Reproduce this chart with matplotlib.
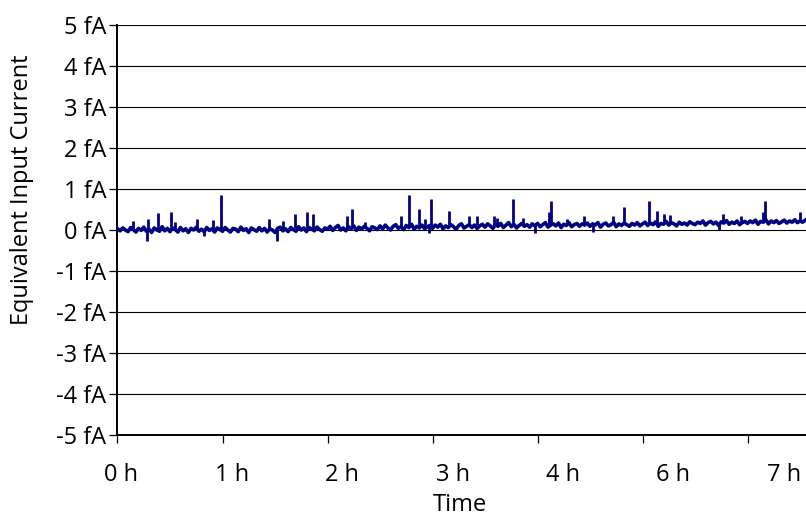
import numpy as np
import matplotlib
matplotlib.use("Agg")
import matplotlib.pyplot as plt
from matplotlib.ticker import FixedLocator, NullFormatter

SAMPLE_STEP = 0.025
trace_fA = [
    0.03, -0.02, 0.05, 0.00, -0.04, 0.06, 0.01, -0.05, 0.04, -0.01, 0.07, -0.03, 0.02, -0.06, 0.05, 0.00, -0.03, 0.08, -0.02, 0.04,
    -0.04, 0.05, 0.01, -0.05, 0.06, -0.02, 0.03, -0.06, 0.04, 0.00, 0.07, -0.03, 0.02, -0.04, 0.06, -0.01, 0.03, -0.05, 0.05, 0.01,
    -0.03, 0.06, 0.00, -0.05, 0.04, 0.02, -0.04, 0.07, -0.01, 0.03, -0.06, 0.05, 0.01, -0.03, 0.06, -0.02, 0.04, -0.05, 0.03, 0.00,
    -0.06, 0.04, 0.07, -0.02, 0.03, -0.04, 0.06, 0.01, -0.03, 0.08, 0.00, 0.05, -0.04, 0.06, 0.02, -0.02, 0.07, 0.01, -0.03, 0.05,
    0.02, 0.09, -0.01, 0.06, 0.11, 0.00, 0.05, -0.02, 0.08, 0.03, 0.10, -0.01, 0.07, 0.02, 0.09, 0.04, -0.02, 0.08, 0.05, 0.01,
    0.10, 0.03, 0.12, 0.05, 0.00, 0.09, 0.13, 0.04, 0.08, 0.01, 0.11, 0.06, 0.14, 0.02, 0.09, 0.05, 0.12, 0.03, 0.08, 0.11,
    0.04, 0.12, 0.07, 0.14, 0.03, 0.10, 0.06, 0.13, 0.08, 0.02, 0.11, 0.15, 0.05, 0.09, 0.13, 0.06, 0.12, 0.04, 0.10, 0.14,
    0.07, 0.15, 0.10, 0.04, 0.13, 0.09, 0.16, 0.06, 0.12, 0.18, 0.08, 0.14, 0.05, 0.11, 0.16, 0.09, 0.13, 0.07, 0.15, 0.10,
    0.16, 0.08, 0.13, 0.18, 0.07, 0.12, 0.15, 0.10, 0.17, 0.06, 0.14, 0.11, 0.18, 0.08, 0.13, 0.16, 0.09, 0.15, 0.12, 0.17,
    0.09, 0.15, 0.12, 0.18, 0.07, 0.14, 0.17, 0.10, 0.13, 0.19, 0.08, 0.15, 0.11, 0.17, 0.13, 0.09, 0.16, 0.12, 0.18, 0.10,
    0.15, 0.19, 0.11, 0.17, 0.13, 0.20, 0.09, 0.16, 0.14, 0.21, 0.12, 0.18, 0.15, 0.10, 0.19, 0.14, 0.17, 0.12, 0.20, 0.16,
    0.13, 0.19, 0.16, 0.22, 0.12, 0.18, 0.21, 0.15, 0.19, 0.11, 0.20, 0.17, 0.23, 0.14, 0.19, 0.16, 0.22, 0.13, 0.18, 0.21,
    0.16, 0.22, 0.18, 0.24, 0.14, 0.21, 0.19, 0.25, 0.15, 0.22, 0.18, 0.23, 0.16, 0.20, 0.24, 0.17, 0.22, 0.19, 0.25, 0.18,
    0.22, 0.19, 0.24,
]

# isolated spikes: time (h), level the spike starts from and its tip (fA)
spike_t = [0.15, 0.28, 0.29, 0.39, 0.51, 0.55, 0.76, 0.82, 0.91, 0.99,
           1.44, 1.52, 1.58, 1.69, 1.80, 1.86, 2.19, 2.23, 2.36, 2.70,
           2.78, 2.87, 2.93, 2.97, 2.99, 3.16, 3.35, 3.42, 3.59, 3.61,
           3.77, 3.86, 3.98, 4.11, 4.13, 4.28, 4.44, 4.53, 4.72, 4.82,
           5.06, 5.14, 5.20, 5.26, 5.73, 5.77, 5.94, 6.15, 6.17, 6.50]
spike_base = [0.02, 0.02, 0.02, 0.02, 0.02, 0.02, 0.02, 0.02, 0.02, 0.02,
              0.04, 0.04, 0.04, 0.04, 0.04, 0.04, 0.07, 0.07, 0.07, 0.07,
              0.07, 0.07, 0.07, 0.07, 0.07, 0.11, 0.11, 0.11, 0.11, 0.11,
              0.11, 0.11, 0.11, 0.14, 0.14, 0.14, 0.14, 0.14, 0.14, 0.14,
              0.17, 0.17, 0.17, 0.17, 0.17, 0.17, 0.17, 0.20, 0.20, 0.20]
spike_v = [0.23, -0.28, 0.27, 0.42, 0.44, 0.20, 0.27, -0.15, 0.25, 0.86,
           0.27, -0.28, 0.23, 0.39, 0.44, 0.39, 0.33, 0.52, 0.20, 0.33,
           0.86, 0.52, 0.28, -0.08, 0.76, 0.46, 0.33, 0.33, 0.35, 0.30,
           0.76, 0.30, -0.07, 0.45, 0.70, 0.28, 0.33, -0.05, 0.34, 0.57,
           0.71, 0.47, 0.39, 0.37, 0.00, 0.39, 0.33, 0.45, 0.71, 0.44]

y_ticks = [-5, -4, -3, -2, -1, 0, 1, 2, 3, 4, 5]
x_tick_labels = ["0 h", "1 h", "2 h", "3 h", "4 h", "6 h", "7 h"]

LINE_COLOR = "#000080"
FONT = ["Open Sans", "DejaVu Sans"]
FS = 17


def main() -> None:
    plt.rcParams["font.family"] = FONT

    t = np.arange(len(trace_fA)) * SAMPLE_STEP

    fig = plt.figure(figsize=(8.06, 5.31), dpi=100, facecolor="white")
    ax = fig.add_axes([117.5 / 806, 96 / 531, (806 - 117.5) / 806, 410 / 531])

    # horizontal gridlines
    for yv in y_ticks:
        ax.axhline(yv, color="black", lw=0.8, zorder=1)

    ax.plot(t, trace_fA, color=LINE_COLOR, lw=2.6, zorder=3)
    ax.vlines(spike_t, spike_base, spike_v, color=LINE_COLOR, lw=2.0, zorder=3)

    ax.set_xlim(0, (806 - 117.5) / 105)
    ax.set_ylim(-5, 5)

    for s in ("top", "right"):
        ax.spines[s].set_visible(False)
    ax.spines["left"].set_linewidth(1.4)
    ax.spines["bottom"].set_linewidth(1.4)

    ax.set_yticks(y_ticks)
    ax.set_yticklabels([f"{y} fA" for y in y_ticks])
    ax.tick_params(axis="y", direction="out", length=6, width=0.9, pad=2, labelsize=FS)

    # tick marks at whole categories, labels slightly offset like the original
    ax.xaxis.set_major_locator(FixedLocator(range(len(x_tick_labels))))
    ax.xaxis.set_major_formatter(NullFormatter())
    label_pos = [0.035 + i * 1.052 for i in range(len(x_tick_labels))]
    ax.xaxis.set_minor_locator(FixedLocator(label_pos))
    ax.set_xticklabels(x_tick_labels, minor=True)
    ax.tick_params(axis="x", which="major", direction="out", length=6, width=0.9)
    ax.tick_params(axis="x", which="minor", length=0, pad=20, labelsize=FS)

    fig.text(22 / 806, 1 - 190 / 531, "Equivalent Input Current", rotation=90,
             ha="center", va="center", fontsize=FS)
    fig.text(460 / 806, 1 - 505 / 531, "Time", ha="center", va="center", fontsize=FS)

    fig.savefig("out.png", dpi=100)
    plt.close(fig)


if __name__ == "__main__":
    main()
